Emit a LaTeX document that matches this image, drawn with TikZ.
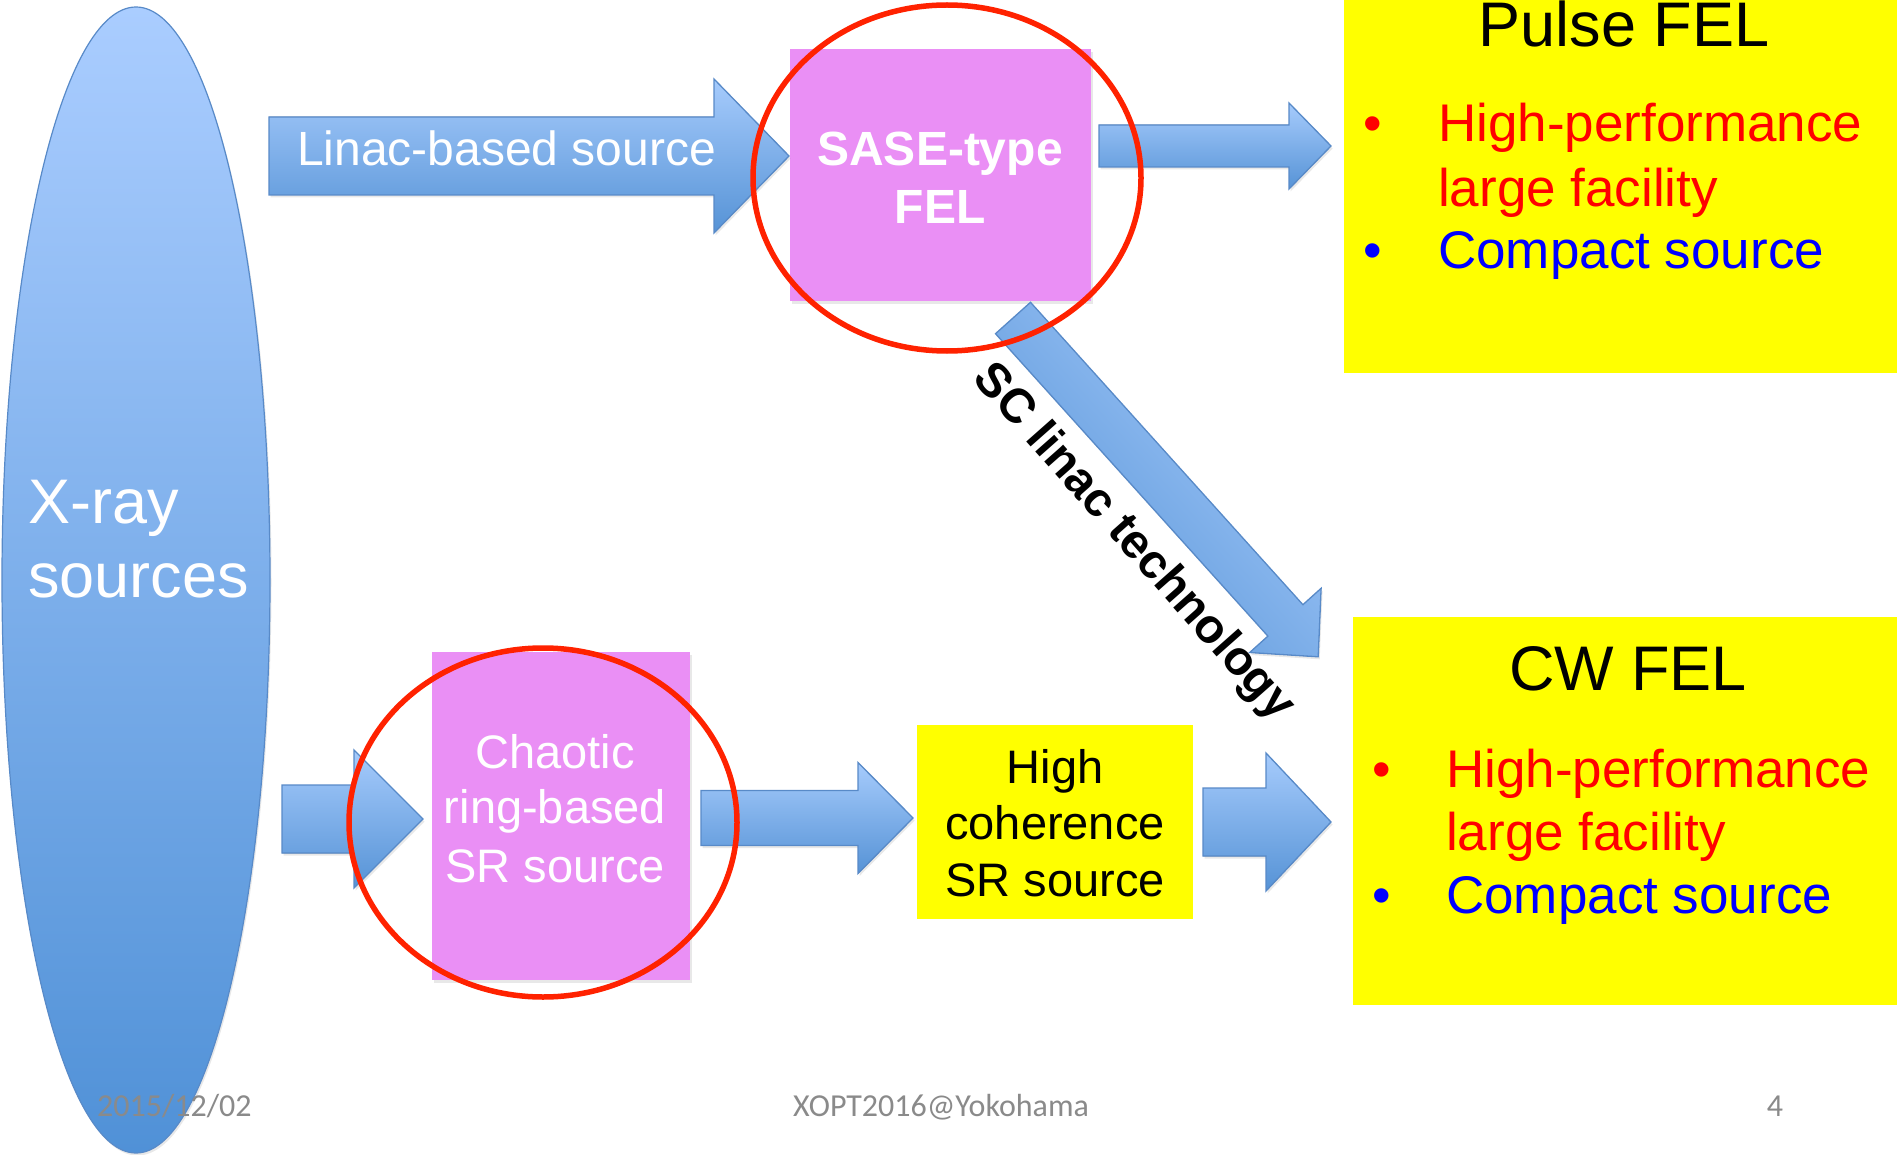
\documentclass[tikz,border=0pt]{standalone}
\usepackage{fontspec}
\setmainfont{Liberation Sans}
\newfontfamily\footfont{Carlito}
\usetikzlibrary{shapes.geometric,shadows}
\definecolor{arrtop}{RGB}{166,203,252}
\definecolor{arrbot}{RGB}{86,147,214}
\definecolor{arrline}{RGB}{88,138,200}
\definecolor{elltop}{RGB}{170,205,255}
\definecolor{ellbot}{RGB}{80,145,215}
\definecolor{boxpink}{RGB}{234,143,245}
\definecolor{ringred}{RGB}{255,34,0}
\definecolor{footgray}{RGB}{138,138,138}
\definecolor{fyellow}{RGB}{255,255,0}
\definecolor{fred}{RGB}{255,0,0}
\definecolor{fblue}{RGB}{0,0,255}
\newcommand\fsz[2]{\fontsize{#1}{#2}\selectfont}
% horizontal block arrow: x1, xtip, xhead, ymid, half body, half head
\newcommand\harrow[6]{%
  \filldraw[blockarrow] (#1,{#4-#5}) -- (#3,{#4-#5}) -- (#3,{#4-#6}) -- (#2,#4)
    -- (#3,{#4+#6}) -- (#3,{#4+#5}) -- (#1,{#4+#5}) -- cycle;}
\begin{document}
\begin{tikzpicture}[x=1pt,y=-1pt,
  softshadow/.style={drop shadow={opacity=0.18, shadow xshift=1.5pt, shadow yshift=-2.5pt}},
  blockarrow/.style={top color=arrtop, bottom color=arrbot, draw=arrline, line width=1.3pt, line join=miter, softshadow},
  ring/.style={draw=ringred, line width=5.5pt},
  pinkbox/.style={fill=boxpink, inner sep=0, anchor=north west, softshadow},
  yellowbox/.style={fill=fyellow, inner sep=0, anchor=north west},
  wtext/.style={text=white, inner sep=0, anchor=base},
  btext/.style={text=black, inner sep=0, anchor=base},
  item/.style={inner sep=0, anchor=base west, font=\fsz{53}{64}},
  dot/.style={inner sep=0, anchor=base, font=\fsz{53}{64}},
  foot/.style={text=footgray, inner sep=0, anchor=base, font=\footfont\fsz{32}{38}}]
\useasboundingbox (0,0) rectangle (1897,1155);
\fill[white] (0,0) rectangle (1897,1155);

% X-ray sources ellipse
\node[ellipse, draw=arrline, line width=1.2pt, top color=elltop, bottom color=ellbot,
      minimum width=268pt, minimum height=1146pt, inner sep=0, softshadow] (xray) at (136,580) {};
\node[wtext, anchor=base west, font=\fsz{63}{73}] (xl1) at (28,523) {X-ray};
\node[wtext, anchor=base west, font=\fsz{63}{73}] (xl2) at (28,597) {sources};

% boxes
\node[pinkbox, minimum width=301pt, minimum height=252pt] (sase) at (790,49) {};
\node[pinkbox, minimum width=258pt, minimum height=328pt] (chaotic) at (432,652) {};
\node[yellowbox, minimum width=276pt, minimum height=194pt] (hicoh) at (917,725) {};
\node[yellowbox, minimum width=560pt, minimum height=383pt] (pulse) at (1344,-10) {};
\node[yellowbox, minimum width=550pt, minimum height=388pt] (cw) at (1353,617) {};

% block arrows
\harrow{269}{789}{714}{156}{39}{77}
\harrow{1099}{1331}{1289}{146}{21}{43}
\harrow{282}{423}{354}{819}{34}{69}
\harrow{701}{913}{858}{818}{27.5}{55.5}
\harrow{1203}{1331}{1266}{822}{34}{69}
% diagonal SC linac arrow
\filldraw[blockarrow, shading angle=-48] (995.5,333.7) -- (1030.5,302.3) -- (1302.9,604.7)
  -- (1321.1,588.3) -- (1318.2,656.8) -- (1249.7,652.5) -- (1267.9,636.1) -- cycle;

% red rings
\draw[ring] (947,178) ellipse [x radius=194, y radius=173];
\draw[ring] (543,822.5) ellipse [x radius=194, y radius=174.5];

% texts
\node[wtext, anchor=base west, font=\fsz{48}{58}] (linac) at (297,166) {Linac-based source};
\node[wtext, font=\bfseries\fsz{48}{58}] (s1) at (940,166) {SASE-type};
\node[wtext, font=\bfseries\fsz{48}{58}] (s2) at (940,224) {FEL};

\node[wtext, font=\fsz{47}{57}] (c1) at (555,768) {Chaotic};
\node[wtext, font=\fsz{47}{57}] (c2) at (555,823) {ring-based};
\node[wtext, font=\fsz{47}{57}] (c3) at (555,882) {SR source};

\node[btext, font=\fsz{47}{57}] (h1) at (1055,783) {High};
\node[btext, font=\fsz{47}{57}] (h2) at (1055,839) {coherence};
\node[btext, font=\fsz{47}{57}] (h3) at (1055,896) {SR source};

\node[btext, font=\fsz{63}{73}] (pt) at (1624,47) {Pulse FEL};
\node[dot, text=fred] (pb1) at (1373,142) {•};
\node[item, text=fred] (pi1) at (1438,142) {High-performance};
\node[item, text=fred] (pi2) at (1438,207) {large facility};
\node[dot, text=fblue] (pb2) at (1373,269) {•};
\node[item, text=fblue] (pi3) at (1438,269) {Compact source};

\node[btext, font=\fsz{63}{73}] (ct) at (1628,690) {CW FEL};
\node[dot, text=fred] (cb1) at (1382,787) {•};
\node[item, text=fred] (ci1) at (1446,787) {High-performance};
\node[item, text=fred] (ci2) at (1446,850) {large facility};
\node[dot, text=fblue] (cb2) at (1382,913) {•};
\node[item, text=fblue] (ci3) at (1446,913) {Compact source};

\node[text=black, inner sep=0, rotate=-48.5, font=\bfseries\fsz{48}{58}] (sc) at (1133,543) {SC linac technology};

% footer
\node[foot, anchor=base west] (date) at (97,1116) {2015/12/02};
\node[foot] (conf) at (941,1116) {XOPT2016@Yokohama};
\node[foot] (page) at (1775,1116) {4};
\end{tikzpicture}
\end{document}
